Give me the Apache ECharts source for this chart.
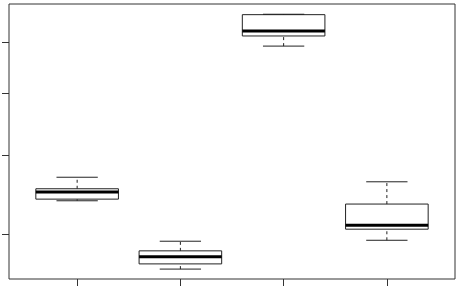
<!DOCTYPE html>
<html>
<head>
<meta charset="utf-8">
<script src="https://cdn.jsdelivr.net/npm/echarts@6/dist/echarts.min.js"></script>
<style>
html,body{margin:0;padding:0;background:#fff;}
#chart{width:462px;height:295px;}
</style>
</head>
<body>
<div id="chart"></div>
<script>
// Data (log-scaled y axis)
const groups = [1, 2, 3, 4];
const lowWhisker = [33.9, 26.5, 59.2, 29.4];
const q1 = [34.1, 27.0, 61.4, 30.6];
const median = [35.0, 27.7, 62.5, 31.05];
const q3 = [35.4, 28.3, 66.3, 33.5];
const highWhisker = [36.9, 29.3, 66.4, 36.3];
const yTicks = [30, 40, 50, 60];
const xTicks = [1, 2, 3, 4];

const seriesData = groups.map((g, i) => [g, lowWhisker[i], q1[i], median[i], q3[i], highWhisker[i]]);

const chart = echarts.init(document.getElementById('chart'), null, {renderer: 'canvas'});
const lineColor = '#222';
chart.setOption({
  animation: false,
  grid: {left: 9, right: 7, top: 4, bottom: 16, show: true, borderColor: '#333', borderWidth: 1, backgroundColor: 'transparent'},
  xAxis: {
    type: 'value', min: 0.34, max: 4.66,
    axisLine: {show: false, onZero: false},
    splitLine: {show: false},
    axisTick: {show: true, length: 7, lineStyle: {color: '#333', width: 1}, customValues: xTicks},
    axisLabel: {show: false}
  },
  yAxis: {
    type: 'log', min: 25.57, max: 68.9, logBase: 10,
    axisLine: {show: false, onZero: false},
    splitLine: {show: false},
    axisTick: {show: true, length: 7, lineStyle: {color: '#333', width: 1}, customValues: yTicks},
    axisLabel: {show: false}
  },
  series: [{
    type: 'custom',
    data: seriesData,
    encode: {x: 0, y: [1, 2, 3, 4, 5]},
    renderItem: function (params, api) {
      const x = api.value(0);
      const lo = api.value(1), a = api.value(2), m = api.value(3), b = api.value(4), hi = api.value(5);
      const bw = 0.4, cw = 0.2;
      const pLo = api.coord([x, lo]), pA = api.coord([x, a]), pM = api.coord([x, m]), pB = api.coord([x, b]), pHi = api.coord([x, hi]);
      const xl = api.coord([x - bw, m])[0], xr = api.coord([x + bw, m])[0];
      const cl = api.coord([x - cw, m])[0], cr = api.coord([x + cw, m])[0];
      const dashed = {stroke: lineColor, lineWidth: 1, lineDash: [3, 3], fill: null};
      const solid = {stroke: lineColor, lineWidth: 1, fill: null};
      return {
        type: 'group',
        children: [
          {type: 'line', shape: {x1: pLo[0], y1: pLo[1], x2: pA[0], y2: pA[1]}, style: dashed},
          {type: 'line', shape: {x1: pB[0], y1: pB[1], x2: pHi[0], y2: pHi[1]}, style: dashed},
          {type: 'line', shape: {x1: cl, y1: pLo[1], x2: cr, y2: pLo[1]}, style: solid},
          {type: 'line', shape: {x1: cl, y1: pHi[1], x2: cr, y2: pHi[1]}, style: solid},
          {type: 'rect', shape: {x: xl, y: pB[1], width: xr - xl, height: pA[1] - pB[1]}, style: solid},
          {type: 'line', shape: {x1: xl, y1: pM[1], x2: xr, y2: pM[1]}, style: {stroke: '#000', lineWidth: 3}}
        ]
      };
    }
  }]
});
</script>
</body>
</html>
